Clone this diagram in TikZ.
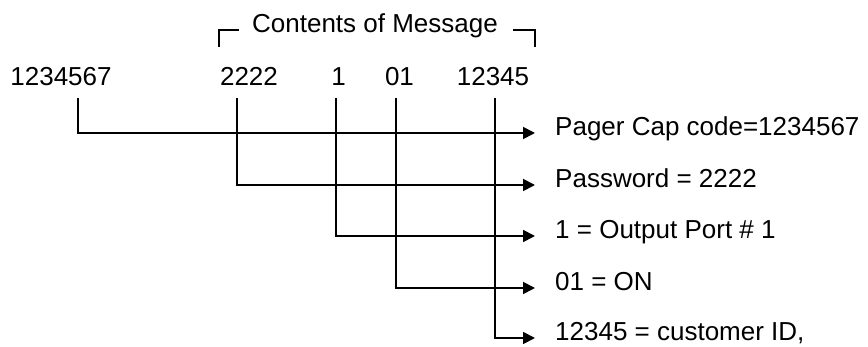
\documentclass[tikz,border=0pt]{standalone}
\usepackage{fontspec}
\setmainfont{Liberation Sans}
\usetikzlibrary{arrows.meta}
\begin{document}
\begin{tikzpicture}[x=1pt,y=-1pt,
  txt/.style={inner sep=0pt,font=\fontsize{26}{30}\selectfont},
  num/.style={txt,anchor=base},
  lab/.style={txt,anchor=west,text height=0.73em,text depth=0.21em},
  wire/.style={line width=1.8pt},
  arr/.style={wire,-{Triangle[length=12pt,width=12pt]}},
  brk/.style={line width=1.8pt}]
\useasboundingbox (0,0) rectangle (868,347);
% title
\node[num] (title) at (375,33) {Contents of Message};
\draw[brk] ([xshift=-33pt,yshift=-14pt]title.base west) -- ([xshift=-33pt,yshift=3pt]title.base west) -- ([xshift=-13pt,yshift=3pt]title.base west);
\draw[brk] ([xshift=15pt,yshift=3pt]title.base east) -- ([xshift=37pt,yshift=3pt]title.base east) -- ([xshift=37pt,yshift=-14pt]title.base east);
% numbers
\node[num] (n1) at (61,86) {1234567};
\node[num] (n2) at (249,86) {2222};
\node[num] (n3) at (338.5,86) {1};
\node[num] (n4) at (399.5,86) {01};
\node[num] (n5) at (493,86) {12345};
% labels
\node[lab] (l1) at (555,133) {Pager Cap code=1234567};
\node[lab] (l2) at (555,185) {Password = 2222};
\node[lab] (l3) at (555,236) {1 = Output Port \# 1};
\node[lab] (l4) at (555,288) {01 = ON};
\node[lab] (l5) at (555,338) {12345 = customer ID,};
% connectors
\draw[arr] ([xshift=17pt,yshift=-12pt]n1.base) |- ([xshift=-20pt]l1.west);
\draw[arr] ([xshift=-12pt,yshift=-12pt]n2.base) |- ([xshift=-20pt]l2.west);
\draw[arr] ([xshift=-2.5pt,yshift=-12pt]n3.base) |- ([xshift=-20pt]l3.west);
\draw[arr] ([xshift=-3.5pt,yshift=-12pt]n4.base) |- ([xshift=-20pt]l4.west);
\draw[arr] ([xshift=2pt,yshift=-12pt]n5.base) |- ([xshift=-20pt]l5.west);
\end{tikzpicture}
\end{document}
